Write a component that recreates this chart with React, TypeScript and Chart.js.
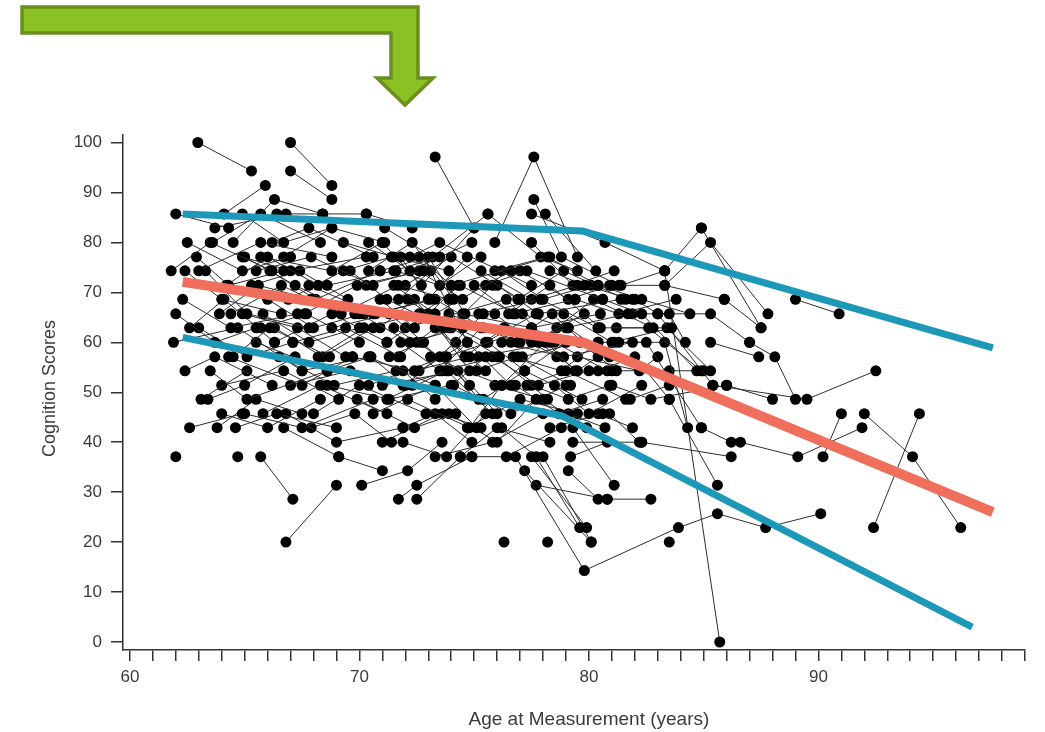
import React, { useEffect, useRef } from "react";
import { Chart, registerables } from "chart.js";

Chart.register(...registerables);

// ---- axis ticks / labels ----
const xTickValues = [60, 61, 62, 63, 64, 65, 66, 67, 68, 69, 70, 71, 72, 73, 74, 75, 76, 77, 78, 79, 80, 81, 82, 83, 84, 85, 86, 87, 88, 89, 90, 91, 92, 93, 94, 95, 96, 97, 98, 99];
const xLabelValues = [60, 70, 80, 90];
const yTickValues = [0, 10, 20, 30, 40, 50, 60, 70, 80, 90, 100];
const X_TITLE = "Age at Measurement (years)";
const Y_TITLE = "Cognition Scores";

// ---- fitted lines (age, score) ----
const meanAge = [62.3, 79.8, 97.6];
const meanScore = [72.1, 59.9, 26.0];
const upperAge = [62.3, 79.7, 97.6];
const upperScore = [85.7, 82.3, 58.9];
const lowerAge = [62.3, 78.8, 96.7];
const lowerScore = [61.0, 45.3, 3.0];

// ---- individual trajectories: [age, score, age, score, ...] ----
const trajStart62 = [
  [62.96, 100, 65.3, 94.3],
  [62.0, 85.7, 64.3, 82.9],
  [64.1, 85.7, 65.9, 91.4],
  [64.5, 80.0, 66.3, 88.6, 68.4, 85.7],
  [62.5, 80.0, 64.9, 74.3, 67.0, 77.1],
  [61.8, 74.3, 63.5, 80.0, 66.2, 74.3],
  [62.4, 74.3, 64.0, 68.6, 66.6, 65.7],
  [63.0, 74.3, 65.7, 80.0, 68.8, 77.1],
  [63.3, 74.3, 65.1, 65.7, 67.8, 62.9],
  [62.9, 77.1, 64.3, 71.4, 66.7, 74.3],
  [62.3, 68.6, 64.4, 62.9, 67.3, 65.7],
  [62.0, 65.7, 63.7, 60.0, 65.5, 62.9],
  [62.6, 62.9, 64.1, 68.6, 66.3, 60.0],
  [63.0, 62.9, 65.1, 57.1, 67.1, 60.0],
  [61.9, 60.0, 64.7, 62.9, 67.5, 54.3],
  [62.4, 54.3, 63.7, 57.1, 66.2, 51.4],
  [62.0, 37.1],
  [62.6, 42.9, 64.9, 45.7],
  [63.1, 48.6, 65.1, 54.3],
  [63.4, 48.6, 65.0, 51.4, 67.2, 57.1],
  [63.6, 80.0, 65.7, 85.7, 68.3, 80.0],
  [63.7, 82.9, 66.8, 85.7],
  [64.9, 85.7, 66.7, 80.0, 68.8, 82.9],
  [63.5, 54.3, 65.1, 48.6, 68.6, 54.3],
  [64.0, 45.7, 66.0, 42.9, 68.3, 48.6],
  [63.8, 42.9, 65.5, 48.6, 67.5, 45.7],
  [64.6, 42.9, 66.4, 45.7, 69.0, 42.9],
  [64.7, 37.1],
  [64.0, 51.4, 66.7, 54.3, 69.1, 48.6],
  [64.2, 71.4, 66.0, 77.1, 68.2, 71.4],
  [63.9, 65.7, 65.6, 71.4, 67.9, 68.6],
  [64.5, 57.1, 66.1, 62.9, 68.7, 57.1],
];

const trajStart65 = [
  [65.0, 77.1, 67.2, 71.4, 69.8, 65.7],
  [65.5, 74.3, 67.9, 77.1, 70.6, 71.4],
  [64.9, 77.1, 67.0, 74.3, 70.3, 77.1],
  [66.1, 74.3, 68.1, 68.6, 70.9, 74.3],
  [65.7, 77.1, 68.8, 74.3, 71.0, 80.0],
  [66.2, 80.0, 67.8, 82.9, 70.6, 77.1],
  [66.7, 77.1, 68.8, 82.9, 71.1, 80.0],
  [66.4, 85.7, 68.4, 85.7, 70.3, 85.7],
  [67.0, 100, 68.8, 91.4],
  [67.0, 94.3, 68.8, 88.6],
  [65.8, 65.7, 67.8, 60.0, 70.0, 62.9],
  [64.4, 65.7, 66.6, 71.4, 69.2, 65.7],
  [64.9, 65.7, 67.3, 62.9, 69.4, 57.1],
  [65.7, 62.9, 67.7, 65.7, 70.0, 60.0],
  [66.3, 62.9, 68.4, 57.1, 70.6, 62.9],
  [65.5, 60.0, 68.6, 54.3, 70.5, 57.1],
  [66.3, 60.0, 68.8, 65.7, 71.2, 60.0],
  [67.1, 60.0, 69.4, 62.9, 71.8, 57.1],
  [64.3, 57.1, 67.5, 51.4, 69.7, 57.1],
  [65.0, 45.7, 67.5, 42.9, 70.6, 48.6],
  [65.8, 45.7, 68.3, 51.4, 71.2, 45.7],
  [66.8, 45.7, 69.0, 40.0, 71.9, 42.9],
  [66.7, 42.9, 69.1, 37.1],
  [65.7, 37.1, 67.1, 28.6],
  [66.8, 20.0, 69.0, 31.4],
  [69.1, 37.1, 71.0, 34.3],
  [70.1, 31.4, 72.1, 34.3, 73.6, 40.0],
  [68.6, 71.4, 71.5, 74.3, 73.5, 77.1],
  [67.8, 71.4, 70.7, 65.7, 73.1, 68.6],
  [68.6, 51.4, 71.3, 48.6, 74.0, 51.4],
  [67.5, 54.3, 70.4, 57.1, 73.3, 51.4],
  [68.6, 54.3, 71.9, 51.4, 73.9, 54.3],
  [69.7, 57.1, 72.4, 54.3, 74.8, 57.1],
  [69.2, 65.7, 71.7, 71.4, 73.9, 68.6],
  [70.0, 65.7, 72.2, 60.0, 74.5, 62.9],
  [70.6, 65.7, 73.3, 68.6, 75.4, 62.9],
  [68.8, 62.9, 71.3, 65.7, 72.8, 60.0],
  [65.3, 71.4, 67.4, 74.3, 69.5, 68.6],
  [66.0, 68.6, 68.0, 62.9, 70.2, 65.7],
  [66.9, 68.6, 69.3, 74.3, 71.4, 77.1],
  [67.6, 65.7, 69.9, 71.4, 72.8, 74.3],
  [68.2, 57.1, 70.2, 62.9, 72.6, 65.7],
  [67.0, 51.4, 69.6, 54.3, 72.3, 51.4],
  [68.0, 45.7, 70.0, 51.4, 72.9, 45.7],
  [69.3, 80.0, 71.5, 77.1, 73.9, 74.3],
  [69.6, 74.3, 71.2, 68.6, 73.7, 62.9],
  [66.5, 57.1, 68.9, 51.4, 71.6, 54.3],
  [69.9, 48.6, 72.4, 42.9, 74.2, 45.7],
  [67.9, 42.9, 69.8, 45.7, 71.4, 40.0],
];

const trajStart70 = [
  [70.3, 85.7, 72.3, 82.9],
  [70.4, 80.0, 72.2, 74.3, 74.9, 80.0],
  [71.0, 80.0, 72.7, 71.4, 75.0, 82.9],
  [71.1, 82.9, 73.2, 77.1, 75.6, 85.7],
  [71.8, 77.1, 73.0, 68.6, 74.7, 77.1],
  [72.2, 77.1, 73.5, 80.0, 77.5, 71.4],
  [72.6, 77.1, 74.0, 71.4, 78.3, 77.1],
  [70.4, 74.3, 72.3, 80.0, 74.1, 68.6],
  [70.9, 74.3, 73.0, 77.1, 74.6, 65.7],
  [71.6, 74.3, 73.5, 71.4, 75.3, 77.1],
  [70.3, 71.4, 72.6, 74.3, 74.5, 68.6],
  [71.5, 71.4, 73.3, 65.7, 76.6, 74.3],
  [72.0, 71.4, 74.0, 77.1, 77.0, 68.6],
  [70.9, 68.6, 72.4, 62.9, 74.3, 71.4],
  [71.7, 68.6, 73.1, 74.3, 74.7, 60.0],
  [72.1, 68.6, 73.9, 62.9, 75.8, 71.4],
  [70.9, 62.9, 72.4, 68.6, 74.6, 57.1],
  [71.5, 62.9, 73.5, 57.1, 75.4, 65.7],
  [72.0, 62.9, 76.4, 68.6, 78.3, 60.0],
  [71.2, 60.0, 73.0, 65.7, 74.8, 54.3],
  [71.8, 60.0, 73.5, 54.3, 75.3, 62.9],
  [72.5, 60.0, 74.0, 62.9, 76.1, 57.1],
  [70.5, 57.1, 72.0, 51.4, 74.2, 60.0],
  [71.3, 57.1, 72.7, 60.0, 74.8, 51.4],
  [71.7, 57.1, 73.3, 62.9, 75.5, 54.3],
  [73.1, 57.1, 76.2, 51.4, 78.1, 60.0],
  [73.8, 57.1, 77.5, 62.9, 79.4, 54.3],
  [71.9, 54.3, 73.3, 48.6, 75.5, 57.1],
  [72.6, 54.3, 74.7, 60.0, 76.6, 51.4],
  [73.6, 54.3, 76.0, 57.1, 78.2, 48.6],
  [70.4, 51.4, 73.7, 57.1, 75.2, 48.6],
  [71.0, 51.4, 74.3, 54.3, 76.0, 45.7],
  [71.2, 48.6, 73.8, 54.3, 75.8, 45.7],
  [72.1, 48.6, 74.8, 42.9, 76.2, 51.4],
  [70.6, 45.7, 73.3, 51.4, 75.1, 42.9],
  [73.9, 45.7, 76.0, 40.0, 77.7, 48.6],
  [71.9, 42.9, 73.3, 45.7, 74.9, 40.0],
  [71.0, 40.0, 73.6, 45.7, 75.3, 42.9],
  [71.9, 40.0, 73.8, 37.1, 75.5, 45.7],
  [73.3, 37.1, 75.8, 40.0, 78.0, 45.7],
  [74.4, 37.1, 76.0, 42.9, 78.3, 40.0],
  [74.9, 37.1, 76.4, 37.1, 78.8, 42.9],
  [71.7, 28.6, 72.5, 31.4, 74.9, 37.1],
  [72.5, 28.6, 74.4, 37.1],
  [73.3, 97.1, 75.0, 82.9],
  [73.9, 65.7, 76.9, 60.0, 79.1, 62.9],
  [73.0, 65.7, 75.5, 60.0, 77.7, 65.7],
  [72.7, 65.7, 74.4, 71.4, 76.8, 65.7],
];

const trajStart74 = [
  [74.5, 65.7, 77.5, 62.9, 80.5, 65.7],
  [75.2, 65.7, 77.9, 68.6, 80.4, 62.9],
  [75.9, 65.7, 77.5, 60.0, 79.8, 65.7],
  [76.5, 65.7, 78.3, 71.4, 80.5, 62.9],
  [77.1, 65.7, 79.0, 62.9, 81.7, 65.7],
  [75.0, 71.4, 76.7, 65.7, 79.4, 68.6],
  [75.5, 71.4, 77.3, 74.3, 80.6, 68.6],
  [76.0, 71.4, 77.8, 65.7, 81.4, 68.6],
  [75.3, 74.3, 77.5, 68.6, 79.5, 71.4],
  [75.9, 74.3, 78.2, 77.1, 80.4, 71.4],
  [77.0, 74.3, 79.1, 68.6, 81.0, 71.4],
  [78.3, 74.3, 79.8, 71.4, 81.9, 68.6],
  [75.6, 85.7, 77.9, 77.1, 79.5, 74.3],
  [75.9, 80.0, 77.6, 97.1, 79.5, 77.1],
  [77.5, 85.7, 80.7, 80.0, 83.3, 74.3],
  [78.1, 85.7, 80.3, 74.3],
  [77.6, 88.6, 78.8, 77.1, 81.3, 71.4],
  [77.5, 80.0, 79.3, 71.4, 81.1, 74.3],
  [75.6, 60.0, 77.2, 54.3, 79.0, 60.0],
  [76.6, 60.0, 78.4, 65.7, 80.4, 57.1],
  [77.8, 60.0, 79.5, 54.3, 81.3, 60.0],
  [77.0, 60.0, 79.1, 62.9, 80.9, 57.1],
  [75.2, 57.1, 78.5, 60.0, 80.8, 54.3],
  [76.2, 60.0, 78.9, 57.1, 81.9, 60.0],
  [75.1, 54.3, 76.9, 57.1, 79.2, 51.4],
  [75.8, 57.1, 77.8, 51.4, 80.0, 54.3],
  [76.7, 57.1, 78.8, 54.3, 80.4, 60.0],
  [77.1, 57.1, 79.6, 60.0, 81.2, 54.3],
  [76.8, 51.4, 78.7, 45.7, 80.6, 48.6],
  [75.9, 51.4, 78.0, 48.6, 79.9, 42.9],
  [77.3, 51.4, 79.0, 54.3, 81.6, 48.6],
  [77.5, 51.4, 79.1, 48.6, 80.9, 51.4],
  [78.5, 51.4, 80.0, 45.7, 82.3, 51.4],
  [79.1, 45.7, 80.7, 42.9],
  [78.3, 42.9, 80.6, 45.7],
  [76.2, 42.9, 77.7, 37.1, 79.6, 22.9],
  [76.8, 37.1, 79.8, 14.3, 83.9, 22.9, 85.6, 25.7, 87.7, 22.9, 90.1, 25.7],
  [77.5, 37.1, 79.9, 22.9],
  [78.0, 37.1, 80.1, 20.0],
  [77.2, 34.3, 80.1, 20.0],
  [79.1, 34.3, 80.4, 28.6],
  [77.7, 31.4, 80.8, 28.6],
  [79.3, 42.9, 81.1, 31.4],
  [79.2, 37.1, 80.8, 40.0],
  [76.3, 20.0],
  [78.2, 20.0],
  [79.3, 40.0, 82.3, 40.0],
  [76.2, 74.3, 78.0, 68.6, 80.1, 71.4],
  [76.9, 68.6, 78.9, 74.3, 81.6, 68.6],
  [74.6, 57.1, 76.3, 62.9, 78.6, 57.1],
  [74.1, 51.4, 76.6, 45.7, 79.0, 51.4],
  [75.4, 48.6, 77.2, 54.3, 79.7, 48.6],
  [74.7, 42.9, 77.0, 48.6, 79.5, 45.7],
  [78.6, 62.9, 80.2, 68.6, 82.8, 62.9],
  [78.9, 65.7, 81.0, 60.0, 83.6, 62.9],
];

const trajStart79 = [
  [79.4, 68.6, 81.3, 65.7, 83.8, 68.6],
  [80.4, 71.4, 82.3, 68.6, 84.4, 65.7],
  [80.9, 71.4, 83.3, 71.4, 85.9, 68.6],
  [81.4, 71.4, 83.3, 74.3, 84.9, 82.9],
  [80.6, 68.6, 82.3, 65.7, 84.7, 54.3],
  [82.0, 68.6, 83.0, 65.7, 85.4, 51.4],
  [81.9, 65.7, 83.5, 65.7, 84.2, 60.0],
  [80.4, 62.9, 82.6, 62.9, 84.9, 54.3],
  [81.2, 62.9, 83.4, 62.9, 85.3, 54.3],
  [80.4, 60.0, 82.5, 60.0, 84.9, 42.9],
  [81.1, 60.0, 83.3, 60.0, 84.3, 42.9],
  [83.3, 71.4, 85.3, 80.0, 87.8, 65.7],
  [84.9, 82.9, 87.5, 62.9],
  [83.3, 74.3, 85.7, 0.0],
  [83.5, 48.6, 85.6, 31.4],
  [85.3, 60.0, 87.4, 57.1],
  [87.0, 60.0, 88.1, 57.1, 89.0, 48.6],
  [86.0, 51.4, 88.0, 48.6],
  [85.4, 51.4, 89.5, 48.6, 92.5, 54.3],
  [89.0, 68.6, 90.9, 65.7],
  [84.9, 42.9, 86.2, 40.0],
  [86.6, 40.0, 89.1, 37.1, 91.9, 42.9],
  [82.3, 40.0, 86.2, 37.1],
  [90.2, 37.1, 91.0, 45.7],
  [92.0, 45.7, 94.1, 37.1, 96.2, 22.9],
  [92.4, 22.9, 94.4, 45.7],
  [83.5, 20.0],
  [80.4, 45.7, 81.9, 42.9],
  [80.9, 45.7, 82.2, 40.0],
  [79.5, 57.1, 82.2, 54.3, 83.0, 57.1],
  [80.4, 54.3, 82.0, 57.1, 83.5, 48.6],
  [81.0, 54.3, 83.5, 54.3, 85.0, 54.3],
  [81.0, 51.4, 82.7, 48.6, 86.0, 51.4],
  [81.8, 48.6, 83.5, 51.4],
  [80.8, 28.6, 82.7, 28.6],
  [83.0, 65.7, 85.3, 65.7, 87.0, 60.0],
  [85.9, 68.6, 87.5, 62.9],
];

const allTrajectories = [...trajStart62, ...trajStart65, ...trajStart70, ...trajStart74, ...trajStart79];

const FONT = '"Liberation Sans", Arial, Helvetica, sans-serif';
const TEXT_COLOR = "#3a3a3a";
const AXIS_COLOR = "#333333";

export default function App() {
  const canvasRef = useRef<HTMLCanvasElement>(null);

  useEffect(() => {
    const canvas = canvasRef.current;
    if (!canvas) return;

    const toPoints = (t: number[]) => {
      const pts: { x: number; y: number }[] = [];
      for (let i = 0; i < t.length; i += 2) pts.push({ x: t[i], y: t[i + 1] });
      return pts;
    };

    const trajDatasets = allTrajectories.map((t) => ({
      data: toPoints(t),
      showLine: true,
      borderColor: "#2e2e2e",
      borderWidth: 1,
      pointRadius: 5.5,
      pointHoverRadius: 5.5,
      pointBackgroundColor: "#000000",
      pointBorderWidth: 0,
      order: 2,
    }));

    const fitLine = (ages: number[], scores: number[], color: string, width: number) => ({
      data: ages.map((a, i) => ({ x: a, y: scores[i] })),
      showLine: true,
      borderColor: color,
      borderWidth: width,
      borderCapStyle: "butt" as const,
      borderJoinStyle: "round" as const,
      pointRadius: 0,
      pointHoverRadius: 0,
      order: 1,
    });

    const axisTitles = {
      id: "axisTitles",
      afterDraw(chart: any) {
        const { ctx, chartArea, scales } = chart;
        ctx.save();
        ctx.fillStyle = TEXT_COLOR;
        ctx.font = `19px ${FONT}`;
        ctx.textAlign = "center";
        ctx.textBaseline = "middle";
        ctx.fillText(X_TITLE, scales.x.getPixelForValue(80), chartArea.bottom + 70);
        ctx.translate(50, (chartArea.top + chartArea.bottom) / 2 - 4);
        ctx.rotate(-Math.PI / 2);
        ctx.font = `18px ${FONT}`;
        ctx.fillText(Y_TITLE, 0, 0);
        ctx.restore();
      },
    };

    const chart = new Chart(canvas, {
      type: "scatter",
      data: {
        datasets: [
          ...trajDatasets,
          fitLine(meanAge, meanScore, "#ef6f5c", 10),
          fitLine(upperAge, upperScore, "#1d98b9", 7),
          fitLine(lowerAge, lowerScore, "#1d98b9", 7),
        ] as any,
      },
      options: {
        responsive: false,
        animation: false,
        devicePixelRatio: 1,
        events: [],
        layout: { padding: { top: 135, right: 20, left: 0, bottom: 0 } },
        plugins: {
          legend: { display: false },
          tooltip: { enabled: false },
          title: { display: false },
        },
        scales: {
          x: {
            type: "linear",
            min: 59.7,
            max: 99.0,
            afterFit: (s: any) => {
              s.height = 82;
            },
            afterBuildTicks: (s: any) => {
              s.ticks = xTickValues.map((v) => ({ value: v }));
            },
            ticks: {
              autoSkip: false,
              maxRotation: 0,
              padding: 6,
              color: TEXT_COLOR,
              font: { family: FONT, size: 17 },
              callback: (v: any) => (xLabelValues.includes(Number(v)) ? String(v) : ""),
            },
            grid: {
              drawOnChartArea: false,
              drawTicks: true,
              tickLength: 11,
              color: AXIS_COLOR,
              lineWidth: 1.5,
            },
            border: { display: true, color: AXIS_COLOR, width: 1.5 },
          },
          y: {
            type: "linear",
            min: -1.6,
            max: 101.5,
            afterFit: (s: any) => {
              s.width = 123;
            },
            afterBuildTicks: (s: any) => {
              s.ticks = yTickValues.map((v) => ({ value: v }));
            },
            ticks: {
              autoSkip: false,
              padding: 9,
              color: TEXT_COLOR,
              font: { family: FONT, size: 17 },
            },
            grid: {
              drawOnChartArea: false,
              drawTicks: true,
              tickLength: 12,
              color: AXIS_COLOR,
              lineWidth: 1.5,
            },
            border: { display: true, color: AXIS_COLOR, width: 1.5 },
          },
        },
      } as any,
      plugins: [axisTitles],
    });

    return () => chart.destroy();
  }, []);

  return (
    <div style={{ position: "fixed", left: 0, top: 0, width: 1045, height: 732, background: "#ffffff", overflow: "hidden" }}>
      <canvas ref={canvasRef} width={1045} height={732} style={{ position: "absolute", left: 0, top: 0, width: 1045, height: 732 }} />
      <svg width={1045} height={120} style={{ position: "absolute", left: 0, top: 0, pointerEvents: "none" }}>
        <polygon
          points="22,7 418,7 418,78 433,78 405,105 377,78 391,78 391,33 22,33"
          fill="#8cc125"
          stroke="#6b8f1f"
          strokeWidth={3.5}
          strokeLinejoin="miter"
        />
      </svg>
    </div>
  );
}
